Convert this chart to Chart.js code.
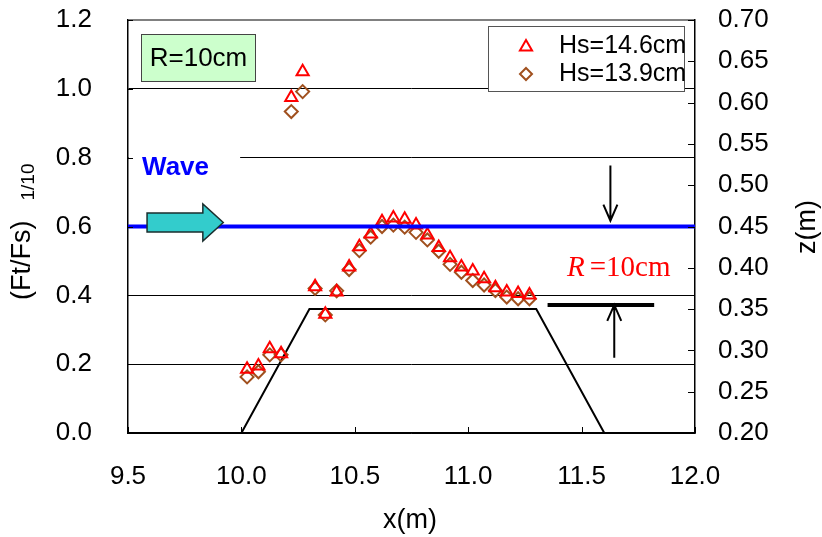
<!DOCTYPE html>
<html>
<head>
<meta charset="utf-8">
<script src="https://cdn.jsdelivr.net/npm/chart.js@4.4.1/dist/chart.umd.min.js"></script>
<style>
  html, body { margin: 0; padding: 0; background: #fff; }
  #wrap { width: 822px; height: 537px; }
</style>
</head>
<body>
<div id="wrap"><canvas id="forceChart" width="822" height="537"></canvas></div>
<script>
// Measured points along the reef (x in m)
const xPos = [10.025, 10.075, 10.125, 10.175, 10.22, 10.27, 10.325, 10.37, 10.42, 10.475,
  10.52, 10.57, 10.62, 10.67, 10.72, 10.77, 10.82, 10.87, 10.92, 10.97,
  11.02, 11.07, 11.12, 11.17, 11.22, 11.27];

// (Ft/Fs)1/10 for each wave height
const forceHs146 = [0.185, 0.195, 0.245, 0.23, 0.975, 1.05, 0.425, 0.345, 0.41, 0.482,
  0.541, 0.578, 0.614, 0.625, 0.621, 0.604, 0.575, 0.539, 0.509, 0.482,
  0.471, 0.448, 0.422, 0.41, 0.405, 0.401];
const forceHs139 = [0.163, 0.178, 0.227, 0.227, 0.934, 0.992, 0.42, 0.343, 0.413, 0.475,
  0.53, 0.569, 0.6, 0.604, 0.598, 0.583, 0.561, 0.528, 0.49, 0.467,
  0.443, 0.43, 0.414, 0.395, 0.39, 0.39];
const seriesLabels = ["Hs=14.6cm", "Hs=13.9cm"];

// Reef profile and still water level, right axis z(m)
const reefX = [10.0, 10.3, 11.3, 11.6];
const reefZ = [0.2, 0.35, 0.35, 0.2];
const waterX = [9.5, 12.0];
const waterZ = [0.45, 0.45];

const FONT = "'Liberation Sans', Arial, sans-serif";
const triColor = "#ff0000";
const diaColor = "#a0501e";

function pairs(xs, ys) {
  return xs.map((v, i) => ({ x: v, y: ys[i] }));
}

function triPath(ctx, cx, cy, r) {
  ctx.beginPath();
  ctx.moveTo(cx, cy - r);
  ctx.lineTo(cx + r * 0.866, cy + r / 2);
  ctx.lineTo(cx - r * 0.866, cy + r / 2);
  ctx.closePath();
}

function diamondPath(ctx, cx, cy, r) {
  ctx.beginPath();
  ctx.moveTo(cx, cy - r);
  ctx.lineTo(cx + r, cy);
  ctx.lineTo(cx, cy + r);
  ctx.lineTo(cx - r, cy);
  ctx.closePath();
}

function openArrow(ctx, x, yFrom, yTo) {
  // line with a V shaped head at yTo
  const dir = yTo > yFrom ? 1 : -1;
  ctx.beginPath();
  ctx.moveTo(x, yFrom);
  ctx.lineTo(x, yTo);
  ctx.moveTo(x - 7, yTo - dir * 16);
  ctx.lineTo(x, yTo);
  ctx.lineTo(x + 7, yTo - dir * 16);
  ctx.stroke();
}

// vertical axes: no extra room for half labels, plot fills to the top padding
function fixVertical(width) {
  return s => {
    s.width = width;
    s.paddingTop = 0;
    s.paddingBottom = 0;
  };
}

const decorPlugin = {
  id: "decor",
  beforeDatasetsDraw(chart) {
    const { ctx, scales: { x, y } } = chart;
    // white backing behind the "Wave" label breaks the 0.8 grid line
    ctx.save();
    ctx.fillStyle = "#fff";
    ctx.fillRect(x.left + 1, y.getPixelForValue(0.8) - 3, x.getPixelForValue(9.99) - x.left, 6);
    ctx.restore();
  },
  afterDatasetsDraw(chart) {
    const { ctx, scales: { x, y2 } } = chart;
    // incoming wave arrow on the water line
    const yl = y2.getPixelForValue(0.45) - 4;
    const x0 = x.getPixelForValue(9.584);
    const x1 = x.getPixelForValue(9.83);
    const x2 = x.getPixelForValue(9.92);
    ctx.save();
    ctx.beginPath();
    ctx.moveTo(x0, yl - 9.5);
    ctx.lineTo(x1, yl - 9.5);
    ctx.lineTo(x1, yl - 18.5);
    ctx.lineTo(x2, yl);
    ctx.lineTo(x1, yl + 18.5);
    ctx.lineTo(x1, yl + 9.5);
    ctx.lineTo(x0, yl + 9.5);
    ctx.closePath();
    ctx.fillStyle = "#33cccc";
    ctx.fill();
    ctx.strokeStyle = "#1a2e2e";
    ctx.lineWidth = 1.5;
    ctx.stroke();
    ctx.restore();
  },
  afterDraw(chart) {
    const { ctx, chartArea: a, scales: { x, y, y2 } } = chart;
    ctx.save();

    // inward tick marks
    ctx.strokeStyle = "#000";
    ctx.lineWidth = 1;
    ctx.beginPath();
    y.ticks.forEach(t => {
      const p = Math.round(y.getPixelForValue(t.value)) + 0.5;
      ctx.moveTo(a.left, p); ctx.lineTo(a.left + 5, p);
    });
    y2.ticks.forEach(t => {
      const p = Math.round(y2.getPixelForValue(t.value)) + 0.5;
      ctx.moveTo(a.right, p); ctx.lineTo(a.right - 7, p);
    });
    x.ticks.forEach(t => {
      const p = Math.round(x.getPixelForValue(t.value)) + 0.5;
      ctx.moveTo(p, a.bottom); ctx.lineTo(p, a.bottom - 6);
    });
    ctx.stroke();

    // R=10cm label box
    ctx.fillStyle = "#ccffcc";
    ctx.fillRect(141.5, 34.5, 114, 47);
    ctx.strokeStyle = "#444";
    ctx.strokeRect(141.5, 34.5, 114, 47);
    ctx.fillStyle = "#000";
    ctx.font = "26px " + FONT;
    ctx.textAlign = "center";
    ctx.textBaseline = "middle";
    ctx.fillText("R=10cm", 198.5, 59);

    // legend
    ctx.fillStyle = "#fff";
    ctx.fillRect(488.5, 26.5, 196, 65);
    ctx.strokeStyle = "#555";
    ctx.strokeRect(488.5, 26.5, 196, 65);
    ctx.lineWidth = 2;
    triPath(ctx, 526, 47, 7);
    ctx.strokeStyle = triColor;
    ctx.stroke();
    diamondPath(ctx, 526, 74, 6);
    ctx.strokeStyle = diaColor;
    ctx.stroke();
    ctx.fillStyle = "#000";
    ctx.font = "25px " + FONT;
    ctx.textAlign = "left";
    ctx.fillText(seriesLabels[0], 559, 46);
    ctx.fillText(seriesLabels[1], 559, 74);

    // Wave label
    ctx.fillStyle = "#0000ff";
    ctx.font = "bold 26px " + FONT;
    ctx.textBaseline = "middle";
    ctx.fillText("Wave", x.getPixelForValue(9.562), y.getPixelForValue(0.77));

    // crest height R marker
    ctx.strokeStyle = "#000";
    ctx.lineWidth = 2;
    openArrow(ctx, x.getPixelForValue(11.627), y2.getPixelForValue(0.524), y2.getPixelForValue(0.457));
    openArrow(ctx, x.getPixelForValue(11.644), y2.getPixelForValue(0.291), y2.getPixelForValue(0.355));
    ctx.lineWidth = 4;
    ctx.beginPath();
    const by = y2.getPixelForValue(0.355);
    ctx.moveTo(x.getPixelForValue(11.35), by);
    ctx.lineTo(x.getPixelForValue(11.82), by);
    ctx.stroke();

    ctx.fillStyle = "#ff0000";
    ctx.textBaseline = "alphabetic";
    ctx.font = "italic 29px 'Liberation Serif', 'Times New Roman', serif";
    const rx = 567, ry = 276;
    ctx.fillText("R", rx, ry);
    const rw = ctx.measureText("R").width;
    ctx.font = "29px 'Liberation Serif', 'Times New Roman', serif";
    ctx.fillText("=10cm", rx + rw + 5, ry);

    // axis titles
    ctx.fillStyle = "#000";
    ctx.font = "27px " + FONT;
    ctx.textAlign = "center";
    ctx.textBaseline = "middle";
    ctx.fillText("x(m)", 410, 521);

    ctx.save();
    ctx.translate(23, 300);
    ctx.rotate(-Math.PI / 2);
    ctx.textAlign = "left";
    ctx.fillText("(Ft/Fs)", 0, 0);
    const tw = ctx.measureText("(Ft/Fs)").width;
    ctx.font = "19px " + FONT;
    ctx.fillText("1/10", tw + 20, 6);
    ctx.restore();

    ctx.save();
    ctx.translate(808, 227);
    ctx.rotate(-Math.PI / 2);
    ctx.font = "27px " + FONT;
    ctx.textAlign = "center";
    ctx.fillText("z(m)", 0, 0);
    ctx.restore();

    ctx.restore();
  }
};

const tickFont = { family: FONT, size: 26 };

new Chart(document.getElementById("forceChart"), {
  type: "scatter",
  data: {
    datasets: [
      {
        label: "water level",
        type: "line",
        data: pairs(waterX, waterZ),
        yAxisID: "y2",
        borderColor: "#0000ff",
        borderWidth: 4,
        pointRadius: 0,
        order: 0
      },
      {
        label: seriesLabels[0],
        data: pairs(xPos, forceHs146),
        yAxisID: "y",
        pointStyle: "triangle",
        pointRadius: 7,
        borderColor: triColor,
        backgroundColor: "rgba(0,0,0,0)",
        borderWidth: 2,
        order: 1
      },
      {
        label: seriesLabels[1],
        data: pairs(xPos, forceHs139),
        yAxisID: "y",
        pointStyle: "rectRot",
        pointRadius: 6.5,
        borderColor: diaColor,
        backgroundColor: "rgba(0,0,0,0)",
        borderWidth: 2,
        order: 2
      },
      {
        label: "reef",
        type: "line",
        data: pairs(reefX, reefZ),
        yAxisID: "y2",
        borderColor: "#000",
        borderWidth: 2,
        pointRadius: 0,
        order: 3
      }
    ]
  },
  options: {
    responsive: false,
    devicePixelRatio: 1,
    animation: false,
    layout: { padding: { top: 20, left: 0, right: 0, bottom: 0 } },
    plugins: {
      legend: { display: false },
      tooltip: { enabled: false }
    },
    scales: {
      x: {
        type: "linear",
        min: 9.5,
        max: 12.0,
        afterFit: s => { s.height = 104; },
        ticks: {
          stepSize: 0.5,
          color: "#000",
          font: tickFont,
          padding: 28,
          maxRotation: 0,
          callback: v => v.toFixed(1)
        },
        grid: { display: false, drawTicks: false },
        border: { display: true, color: "#000", width: 1.5 }
      },
      y: {
        position: "left",
        min: 0,
        max: 1.2,
        afterFit: fixVertical(128),
        ticks: {
          stepSize: 0.2,
          color: "#000",
          font: tickFont,
          padding: 36,
          callback: v => v.toFixed(1)
        },
        grid: {
          drawTicks: false,
          color: c => (Math.abs(c.tick.value - 1.2) < 1e-6 ? "#808080" : "#000"),
          lineWidth: c => (Math.abs(c.tick.value - 1.2) < 1e-6 ? 2 : 1)
        },
        border: { display: true, color: "#000", width: 1.5 }
      },
      y2: {
        position: "right",
        min: 0.2,
        max: 0.7,
        afterFit: fixVertical(127),
        ticks: {
          stepSize: 0.05,
          color: "#000",
          font: tickFont,
          padding: 23,
          callback: v => v.toFixed(2)
        },
        grid: { display: false, drawTicks: false },
        border: { display: true, color: "#000", width: 1.5 }
      }
    }
  },
  plugins: [decorPlugin]
});
</script>
</body>
</html>
